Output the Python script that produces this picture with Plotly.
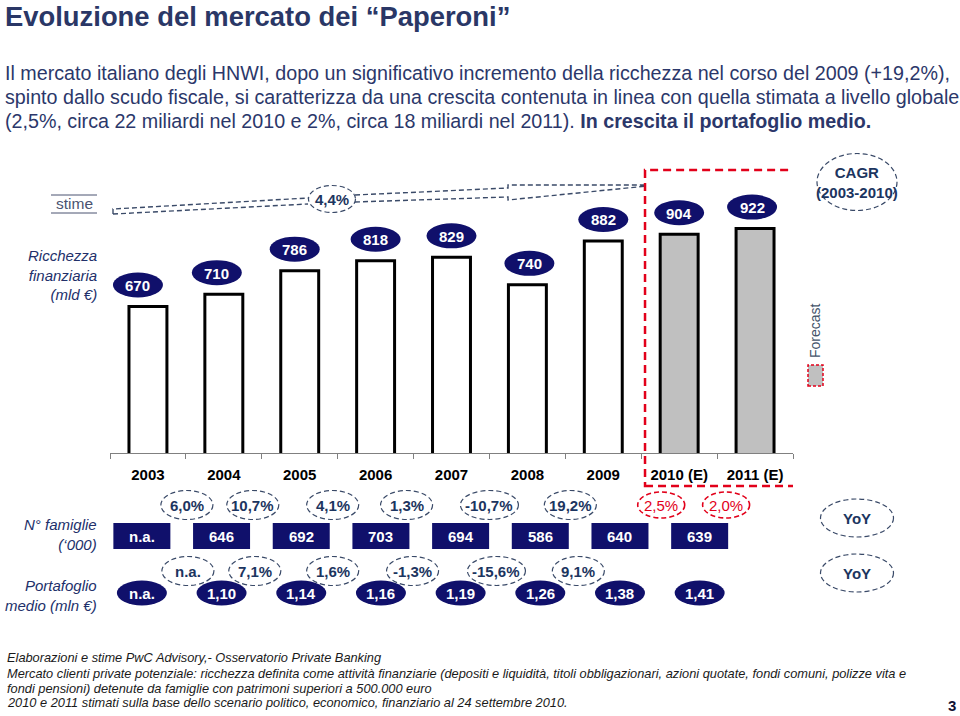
import plotly.graph_objects as go

W, H = 960, 716

# ---------------- data ----------------
years = ["2003", "2004", "2005", "2006", "2007", "2008", "2009", "2010 (E)", "2011 (E)"]
wealth = [670, 710, 786, 818, 829, 740, 882, 904, 922]          # Ricchezza finanziaria (mld €)
forecast = [False, False, False, False, False, False, False, True, True]
wealth_yoy = [6.0, 10.7, 4.1, 1.3, -10.7, 19.2, 2.5, 2.0]       # %
households = [None, 646, 692, 703, 694, 586, 640, 639]         # N° famiglie ('000)
households_yoy = [None, 7.1, 1.6, -1.3, -15.6, 9.1]             # %
portfolio = [None, 1.10, 1.14, 1.16, 1.19, 1.26, 1.38, 1.41]    # Portafoglio medio (mln €)
cagr = 4.4

# ---------------- style ----------------
FONT = "Liberation Sans, Arial, sans-serif"
NAVY = "#10106b"
TXT = "#2b376a"
DASHC = "#3a4a68"
PCTC = "#1c3560"
RED = "#e2001a"


def fx(p):
    return p / W


def fy(p):
    return 1 - p / H


def pct(v):
    return "n.a." if v is None else (("%.1f" % v).replace(".", ",") + "%")


def num(v, dec=0):
    if v is None:
        return "n.a."
    return (("%." + str(dec) + "f") % v).replace(".", ",")


def A(**kw):
    d = dict(showarrow=False, xanchor="center", yanchor="middle")
    d.update(kw)
    return d


fig = go.Figure()
fig.add_trace(go.Bar(
    x=years, y=wealth, width=0.5,
    marker=dict(color=["#c0c0c0" if f else "white" for f in forecast],
                line=dict(color="black", width=3)),
    hoverinfo="skip", showlegend=False,
))

shapes = []
ann = []

# bar value labels (navy ellipses)
lbl_dx = [-10, -7, -5, 0, 0, 2, 0, 0, -3]
for i, v in enumerate(wealth):
    shapes.append(dict(type="circle", xref="x", yref="y", xsizemode="pixel", ysizemode="pixel",
                       xanchor=i, yanchor=v, x0=-25 + lbl_dx[i], x1=25 + lbl_dx[i], y0=9, y1=34,
                       fillcolor=NAVY, line=dict(width=0)))
    ann.append(A(x=i, y=v, xref="x", yref="y", text="<b>%d</b>" % v,
                 xshift=lbl_dx[i], yshift=21, font=dict(color="white", size=15, family=FONT)))

# household row / portfolio row positions (x in category units)
row_x = [-0.08 + 1.05 * i for i in range(len(households))]
for i, v in enumerate(households):
    shapes.append(dict(type="rect", xref="x", yref="paper", xsizemode="pixel", xanchor=row_x[i],
                       x0=-28.5, x1=28.5, y0=fy(549), y1=fy(523), fillcolor=NAVY, line=dict(width=0)))
    ann.append(A(x=row_x[i], y=fy(536), xref="x", yref="paper", text="<b>%s</b>" % num(v),
                 font=dict(color="white", size=15, family=FONT)))
for i, v in enumerate(portfolio):
    shapes.append(dict(type="circle", xref="x", yref="paper", xsizemode="pixel", xanchor=row_x[i],
                       x0=-25, x1=25, y0=fy(605.5), y1=fy(580.5), fillcolor=NAVY, line=dict(width=0)))
    ann.append(A(x=row_x[i], y=fy(593), xref="x", yref="paper", text="<b>%s</b>" % num(v, 2),
                 font=dict(color="white", size=15, family=FONT)))

# YoY percentage bubbles
pct1_dx = [1, -9, -5, -7, 0, 5, 20, 9]
for i, v in enumerate(wealth_yoy):
    is_f = forecast[i + 1]
    col = RED if is_f else DASHC
    w = 47 if is_f else (58 if len(pct(v)) > 5 else 52)
    h = 26 if is_f else 29
    xc = i + 0.5 + pct1_dx[i] / 75.9
    shapes.append(dict(type="circle", xref="x", yref="paper", xsizemode="pixel", xanchor=xc,
                       x0=-w / 2, x1=w / 2, y0=fy(505 + h / 2), y1=fy(505 - h / 2),
                       line=dict(color=col, width=1.6 if is_f else 1.2, dash="5px,3px")))
    ann.append(A(x=xc, y=fy(505), xref="x", yref="paper",
                 text=pct(v) if is_f else "<b>%s</b>" % pct(v),
                 font=dict(color=RED if is_f else PCTC, size=15, family=FONT)))

pct2_dx = [2, -7, -5, -1, 7, 13]
for i, v in enumerate(households_yoy):
    w = 58 if len(pct(v)) > 5 else 52
    xc = i + 0.5 + pct2_dx[i] / 75.9
    shapes.append(dict(type="circle", xref="x", yref="paper", xsizemode="pixel", xanchor=xc,
                       x0=-w / 2, x1=w / 2, y0=fy(585.5), y1=fy(556.5),
                       line=dict(color=DASHC, width=1.2, dash="5px,3px")))
    ann.append(A(x=xc, y=fy(571), xref="x", yref="paper", text="<b>%s</b>" % pct(v),
                 font=dict(color=PCTC, size=15, family=FONT)))

# YoY labels on the right
for yc in (518, 573):
    shapes.append(dict(type="circle", xref="paper", yref="paper", x0=fx(820.5), x1=fx(893.5),
                       y0=fy(yc + 19), y1=fy(yc - 19), line=dict(color=DASHC, width=1.2, dash="5px,3px")))
    ann.append(A(x=fx(857), y=fy(yc), xref="paper", yref="paper", text="<b>YoY</b>",
                 font=dict(color=PCTC, size=15, family=FONT)))

# CAGR bubble
shapes.append(dict(type="circle", xref="paper", yref="paper", x0=fx(817), x1=fx(897),
                   y0=fy(210.5), y1=fy(153.5), line=dict(color=DASHC, width=1.2, dash="5px,3px")))
ann.append(A(x=fx(857), y=fy(182), xref="paper", yref="paper", text="<b>CAGR<br>(2003-2010)</b>",
             font=dict(color=PCTC, size=15, family=FONT)))


# CAGR connector and 4,4% bubble
def P(x, y):
    return "%.5f %.5f" % (fx(x), fy(y))


path = ("M " + P(113, 214) + " L " + P(113, 209) + " L " + P(308, 198) +
        " M " + P(113, 214) + " L " + P(308, 204) +
        " M " + P(355, 195) + " L " + P(508, 188) + " L " + P(508, 185) + " L " + P(647, 185) +
        " M " + P(355, 202) + " L " + P(508, 197) + " L " + P(508, 200) + " L " + P(647, 186))
shapes.append(dict(type="path", xref="paper", yref="paper", path=path,
                   line=dict(color=DASHC, width=1.4, dash="5px,3px")))
shapes.append(dict(type="circle", xref="paper", yref="paper", x0=fx(308.5), x1=fx(355.5),
                   y0=fy(212.5), y1=fy(185.5), line=dict(color=DASHC, width=1.2, dash="5px,3px")))
ann.append(A(x=fx(332), y=fy(199), xref="paper", yref="paper", text="<b>%s</b>" % pct(cagr),
             font=dict(color=PCTC, size=15, family=FONT)))

# forecast box
shapes.append(dict(type="rect", xref="x", yref="paper", x0=6.55, x1=8.58, y0=fy(486), y1=fy(170),
                   line=dict(color=RED, width=2.5, dash="8px,5px")))
shapes.append(dict(type="rect", xref="paper", yref="paper", x0=fx(808), x1=fx(823), y0=fy(386), y1=fy(365),
                   fillcolor="#c0c0c0", line=dict(color=RED, width=1.5, dash="3px,2px")))
ann.append(A(x=fx(815), y=fy(331), xref="paper", yref="paper", text="Forecast", textangle=-90,
             font=dict(color="#44546a", size=14, family=FONT)))

# left labels
ann.append(A(x=fx(74), y=fy(204), xref="paper", yref="paper", text="stime",
             font=dict(color="#4a5370", size=15.5, family=FONT)))
for yy in (195, 213):
    shapes.append(dict(type="line", xref="paper", yref="paper", x0=fx(51), x1=fx(97), y0=fy(yy), y1=fy(yy),
                       line=dict(color="#4a5370", width=1)))
left_labels = [("Ricchezza<br>finanziaria<br>(mld €)", 275), ("N° famiglie<br>(‘000)", 534),
               ("Portafoglio<br>medio (mln €)", 595)]
for t, yc in left_labels:
    ann.append(A(x=fx(99), y=fy(yc), xref="paper", yref="paper", text="<i>%s</i>" % t,
                 xanchor="right", align="right", font=dict(color="#22306a", size=15, family=FONT)))

# title & body
ann.append(A(x=fx(3), y=fy(17), xref="paper", yref="paper", xanchor="left",
             text="<b>Evoluzione del mercato dei “Paperoni”</b>",
             font=dict(color="#2a3766", size=27.4, family=FONT)))
body = [("Il mercato italiano degli HNWI, dopo un significativo incremento della ricchezza nel corso del 2009 (+19,2%),", 73),
        ("spinto dallo scudo fiscale, si caratterizza da una crescita contenuta in linea con quella stimata a livello globale", 97),
        ("(2,5%, circa 22 miliardi nel 2010 e 2%, circa 18 miliardi nel 2011). <b>In crescita il portafoglio medio.</b>", 121)]
for t, yc in body:
    ann.append(A(x=fx(3), y=fy(yc), xref="paper", yref="paper", xanchor="left", text=t,
                 font=dict(color=TXT, size=19.7, family=FONT)))

footer = [("Elaborazioni e stime PwC Advisory,- Osservatorio Private Banking", 657),
          ("Mercato clienti private potenziale: ricchezza definita come attività finanziarie (depositi e liquidità, titoli obbligazionari, azioni quotate, fondi comuni, polizze vita e", 673),
          ("fondi pensioni) detenute da famiglie con patrimoni superiori a 500.000 euro", 688),
          ("2010 e 2011 stimati sulla base dello scenario politico, economico, finanziario al 24 settembre 2010.", 702)]
for t, yc in footer:
    ann.append(A(x=fx(5), y=fy(yc), xref="paper", yref="paper", xanchor="left", text="<i>%s</i>" % t,
                 font=dict(color="#1a1a1a", size=12.8, family=FONT)))
ann.append(A(x=fx(952), y=fy(705), xref="paper", yref="paper", text="<b>3</b>",
             font=dict(color="#111133", size=15, family=FONT)))

fig.update_layout(
    width=W, height=H, margin=dict(l=0, r=0, t=0, b=0),
    paper_bgcolor="white", plot_bgcolor="white",
    font=dict(family=FONT),
    xaxis=dict(type="category", domain=[110 / W, 793 / W], range=[-0.5, 8.5],
               tickson="boundaries", ticks="outside", ticklen=5, tickcolor="#808080",
               showline=True, linecolor="#808080", linewidth=1, showgrid=False,
               tickfont=dict(size=15, color="black", family=FONT, weight="bold"),
               ticklabelstandoff=8, fixedrange=True),
    yaxis=dict(domain=[fy(453), fy(160)], range=[196, 1144], visible=False, fixedrange=True),
    shapes=shapes, annotations=ann, bargap=0.5,
)

fig.write_html("out.html", config={"displayModeBar": False},
               post_script="document.body.style.margin='0';")
